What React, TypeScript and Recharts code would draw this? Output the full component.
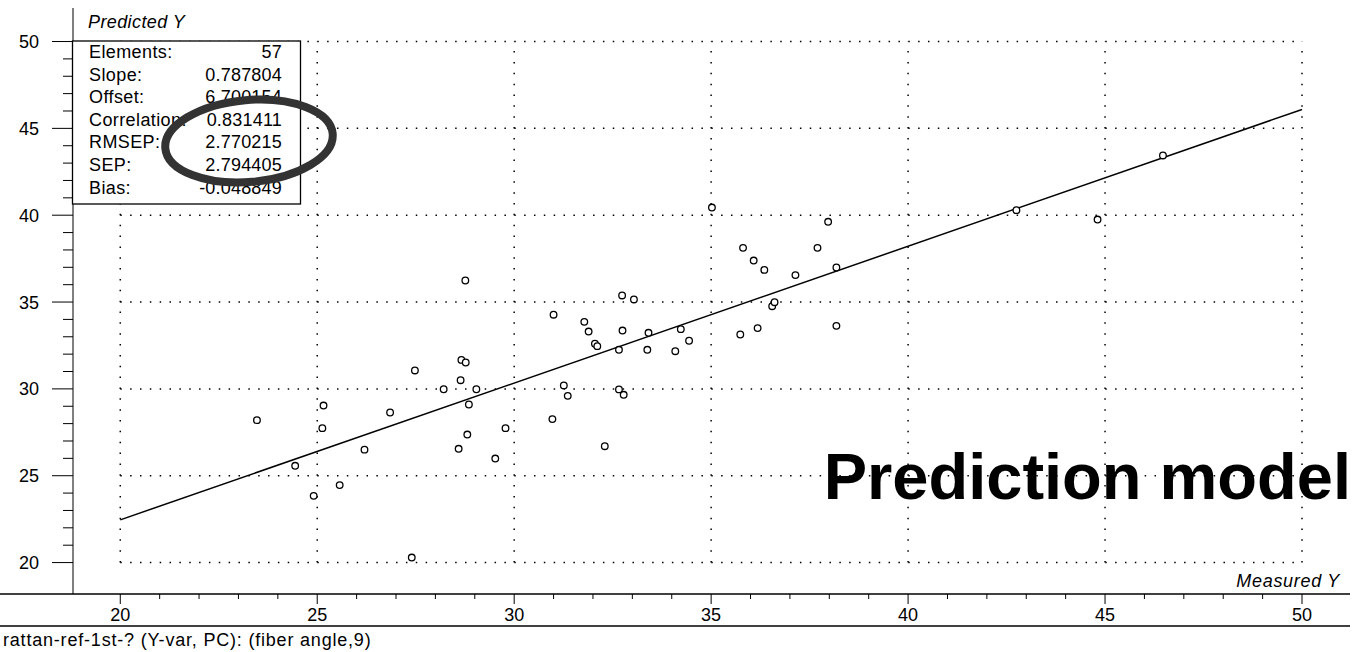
import React from "react";
import {
  ScatterChart,
  Scatter,
  XAxis,
  YAxis,
  ReferenceLine,
} from "recharts";

const measured = [
  23.47, 24.44, 24.91, 25.16, 25.13, 25.57, 26.2, 26.85, 27.4, 27.48,
  28.21, 28.59, 28.64, 28.66, 28.77, 28.76, 28.81, 28.85, 29.04, 29.52,
  29.78, 31.0, 30.97, 31.26, 31.36, 31.78, 31.89, 32.05, 32.11, 32.3,
  32.66, 32.66, 32.75, 32.74, 32.78, 33.04, 33.38, 33.41, 34.09, 34.23,
  34.44, 35.02, 35.74, 35.81, 36.08, 36.18, 36.35, 36.55, 36.61, 37.14,
  37.7, 37.97, 38.18, 38.18, 42.75, 44.81, 46.47,
];
const predicted = [
  28.2, 25.57, 23.84, 29.04, 27.74, 24.46, 26.5, 28.64, 20.29, 31.06,
  29.98, 26.55, 30.5, 31.67, 31.52, 36.24, 27.37, 29.1, 29.98, 25.99,
  27.74, 34.27, 28.26, 30.2, 29.6, 33.86, 33.3, 32.6, 32.46, 26.7,
  32.25, 29.97, 33.36, 35.38, 29.66, 35.15, 32.25, 33.23, 32.17, 33.44,
  32.77, 40.44, 33.13, 38.12, 37.39, 33.5, 36.85, 34.76, 34.99, 36.55,
  38.12, 39.62, 36.99, 33.63, 40.29, 39.75, 43.44,
];

// regression line end points
const fitX = [20, 50];
const fitY = [22.46, 46.09];

const gridValues = [20, 25, 30, 35, 40, 45, 50];
const unitTicks = [
  20, 21, 22, 23, 24, 25, 26, 27, 28, 29, 30, 31, 32, 33, 34, 35, 36, 37,
  38, 39, 40, 41, 42, 43, 44, 45, 46, 47, 48, 49, 50,
];

const statLabels = ["Elements:", "Slope:", "Offset:", "Correlation:", "RMSEP:", "SEP:", "Bias:"];
const statValues = ["57", "0.787804", "6.700154", "0.831411", "2.770215", "2.794405", "-0.048849"];

const points = measured.map((x, i) => ({ x, y: predicted[i] }));
const fitLine = fitX.map((x, i) => ({ x, y: fitY[i] }));

const FONT = "'Liberation Sans', Arial, sans-serif";
const W = 1359;
const H = 652;

const XTick = (props: any) => {
  const { x, y, payload } = props;
  const major = payload.value % 5 === 0;
  return (
    <g>
      <line x1={x} x2={x} y1={y} y2={y + (major ? 10 : 5)} stroke="#000" />
      {major && (
        <text x={x} y={y + 27} textAnchor="middle" fontSize={18} fontFamily={FONT} fill="#000">
          {payload.value}
        </text>
      )}
    </g>
  );
};

const YTick = (props: any) => {
  const { x, y, payload } = props;
  const major = payload.value % 5 === 0;
  return (
    <g>
      <line x1={x - (major ? 21 : 10)} x2={x} y1={y} y2={y} stroke="#000" />
      {major && (
        <text x={x - 34} y={y + 6.5} textAnchor="end" fontSize={18} fontFamily={FONT} fill="#000">
          {payload.value}
        </text>
      )}
    </g>
  );
};

const Dot = (props: any) => (
  <circle cx={props.cx} cy={props.cy} r={3.3} fill="#fff" stroke="#000" strokeWidth={1.3} />
);

export default function App() {
  return (
    <div style={{ position: "absolute", left: 0, top: 0, width: W, height: H, background: "#fff" }}>
      <ScatterChart width={W} height={H} margin={{ top: 8, right: 0, bottom: 0, left: 0 }}>
        <XAxis
          type="number"
          dataKey="x"
          domain={[18.8, 51.447]}
          ticks={unitTicks}
          interval={0}
          allowDataOverflow
          axisLine={false}
          tickLine={false}
          tickSize={0}
          tickMargin={0}
          height={58}
          tick={XTick}
        />
        <YAxis
          type="number"
          dataKey="y"
          domain={[18.19, 51.93]}
          ticks={unitTicks}
          interval={0}
          allowDataOverflow
          axisLine={{ stroke: "#000" }}
          tickLine={false}
          tickSize={0}
          tickMargin={0}
          width={73}
          tick={YTick}
        />
        {gridValues.map((v) => (
          <ReferenceLine
            key={"h" + v}
            segment={[{ x: 20, y: v }, { x: 50, y: v }]}
            stroke="#000"
            strokeWidth={1.5}
            strokeDasharray="1.5 8.35"
          />
        ))}
        {gridValues.map((v) => (
          <ReferenceLine
            key={"v" + v}
            segment={[{ x: v, y: 20 }, { x: v, y: 50 }]}
            stroke="#000"
            strokeWidth={1.5}
            strokeDasharray="1.5 9.35"
          />
        ))}
        <Scatter
          data={fitLine}
          line={{ stroke: "#000", strokeWidth: 1.5 }}
          shape={() => <g />}
          isAnimationActive={false}
        />
        <Scatter data={points} shape={Dot} isAnimationActive={false} />
      </ScatterChart>

      <svg
        width={W}
        height={H}
        style={{ position: "absolute", left: 0, top: 0, pointerEvents: "none" }}
        fontFamily={FONT}
      >
        <line x1={0} x2={1350} y1={594} y2={594} stroke="#000" strokeWidth={1.5} />
        <line x1={0} x2={1350} y1={626} y2={626} stroke="#000" strokeWidth={1.5} />
        <text x={3} y={646} fontSize={18} letterSpacing={0.8}>
          rattan-ref-1st-? (Y-var, PC): (fiber angle,9)
        </text>
        <text x={88} y={28} fontSize={18} fontStyle="italic" letterSpacing={0.4}>
          Predicted Y
        </text>
        <text x={1340} y={587} fontSize={18} fontStyle="italic" textAnchor="end" letterSpacing={0.7}>
          Measured Y
        </text>

        <rect x={72.5} y={41} width={228} height={163} fill="#fff" stroke="#000" strokeWidth={1.3} />
        {statLabels.map((s, i) => (
          <text key={s} x={89} y={58 + i * 22.6} fontSize={18} letterSpacing={0.4}>
            {s}
          </text>
        ))}
        {statValues.map((s, i) => (
          <text key={i} x={282} y={58 + i * 22.6} fontSize={18} textAnchor="end" letterSpacing={0.2}>
            {s}
          </text>
        ))}
        <ellipse
          cx={249}
          cy={141}
          rx={84}
          ry={41}
          transform="rotate(-5 249 141)"
          fill="none"
          stroke="#333"
          strokeWidth={8}
        />

        <text x={1351} y={499} fontSize={65} fontWeight="bold" textAnchor="end">
          Prediction model
        </text>
      </svg>
    </div>
  );
}
